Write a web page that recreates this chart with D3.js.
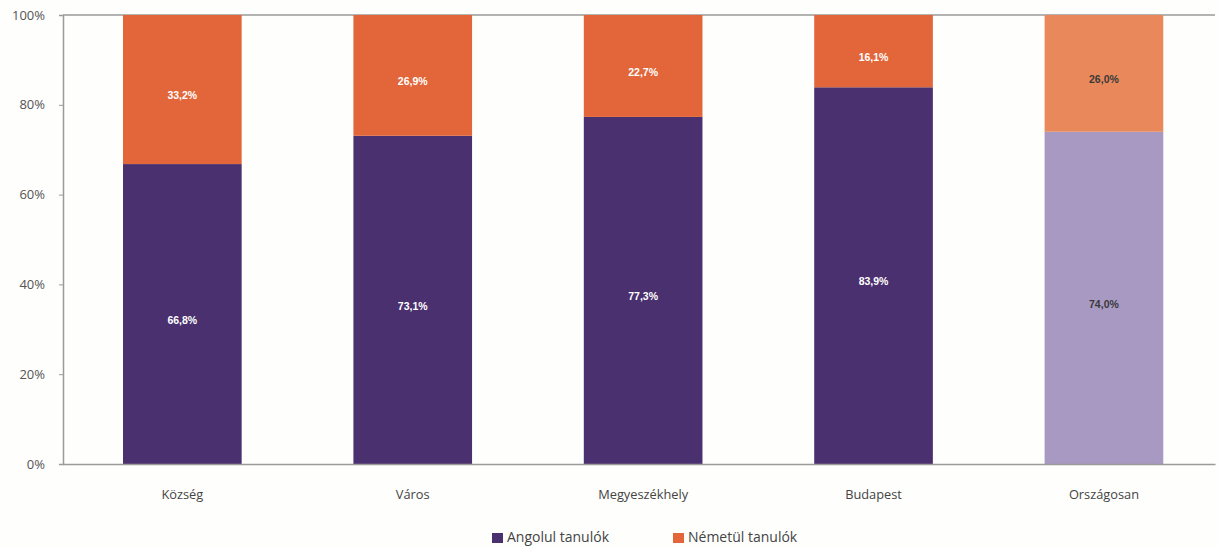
<!DOCTYPE html>
<html><head><meta charset="utf-8">
<script src="https://cdn.jsdelivr.net/npm/d3@7"></script>
<style>body{margin:0;background:#fefefc;} svg{display:block;}</style>
</head><body>
<svg id="c" width="1219" height="547"></svg>
<script>
const categories = ["Község","Város","Megyeszékhely","Budapest","Országosan"];
const angolul = [66.8, 73.1, 77.3, 83.9, 74.0];
const nemetul = [33.2, 26.9, 22.7, 16.1, 26.0];
const angolLabels = ["66,8%","73,1%","77,3%","83,9%","74,0%"];
const nemetLabels = ["33,2%","26,9%","22,7%","16,1%","26,0%"];
const yTicks = [0,20,40,60,80,100];
const seriesNames = ["Angolul tanulók","Németül tanulók"];

const svg = d3.select("#c");
const m = {l:63, r:4, t:15, b:83};
const W = 1219, H = 547;
const x = d3.scaleBand().domain(categories).range([m.l, W-m.r]).paddingInner(0.485).paddingOuter(0.2425).align(0.537);
const y = d3.scaleLinear().domain([0,100]).range([H-m.b, m.t]);

const colA = ["#4a306e","#4a306e","#4a306e","#4a306e","#a899c3"];
const colN = ["#e2663a","#e2663a","#e2663a","#e2663a","#e9885a"];
const txtCol = ["#fff","#fff","#fff","#fff","#3a3a3a"];

// top border line
svg.append("line").attr("x1",m.l).attr("x2",W-m.r).attr("y1",y(100)).attr("y2",y(100))
  .attr("stroke","#9a9a9a").attr("stroke-width",1.5);

const g = svg.append("g");
const lblFont = "Liberation Sans Narrow, Liberation Sans, sans-serif";
categories.forEach((c,i)=>{
  g.append("rect").attr("x",x(c)).attr("width",x.bandwidth())
    .attr("y",y(angolul[i])).attr("height",y(0)-y(angolul[i])).attr("fill",colA[i]);
  g.append("rect").attr("x",x(c)).attr("width",x.bandwidth())
    .attr("y",y(100)).attr("height",y(angolul[i])-y(100)).attr("fill",colN[i]);
  const cx = x(c)+x.bandwidth()/2;
  g.append("text").attr("x",cx).attr("y",(y(0)+y(angolul[i]))/2+6).attr("dy","0.35em")
    .attr("text-anchor","middle").attr("font-family",lblFont).attr("font-weight","bold")
    .attr("font-size",10.5).attr("fill",txtCol[i]).text(angolLabels[i]);
  g.append("text").attr("x",cx).attr("y",(y(100)+y(angolul[i]))/2+6).attr("dy","0.35em")
    .attr("text-anchor","middle").attr("font-family",lblFont).attr("font-weight","bold")
    .attr("font-size",10.5).attr("fill",txtCol[i]).text(nemetLabels[i]);
});

// y axis
const ya = svg.append("g").attr("transform",`translate(${m.l},0)`)
  .call(d3.axisLeft(y).tickValues(yTicks).tickSize(4).tickFormat(d=>d+"%"));
ya.select(".domain").attr("stroke","#9a9a9a").attr("stroke-width",1.5);
ya.selectAll(".tick line").attr("stroke","#9a9a9a");
ya.selectAll(".tick text").attr("font-family","Open Sans, sans-serif").attr("font-size",13).attr("fill","#555").attr("x",-18);

// x axis
const xa = svg.append("g").attr("transform",`translate(0,${y(0)})`)
  .call(d3.axisBottom(x).tickSize(0).tickPadding(26));
xa.select(".domain").attr("stroke","#9a9a9a").attr("stroke-width",1.5);
xa.selectAll(".tick text").attr("font-family","Open Sans, sans-serif").attr("font-size",12.8).attr("fill","#444");

// legend
const lg = svg.append("g");
const lx = [492, 673];
const lc = ["#4a306e","#e2663a"];
seriesNames.forEach((s,i)=>{
  lg.append("rect").attr("x",lx[i]).attr("y",533).attr("width",11).attr("height",10).attr("fill",lc[i]);
  lg.append("text").attr("x",lx[i]+15).attr("y",537).attr("dy","0.35em").attr("font-family","Open Sans, sans-serif")
    .attr("font-size",14).attr("fill","#444").text(s);
});
</script>
</body></html>
